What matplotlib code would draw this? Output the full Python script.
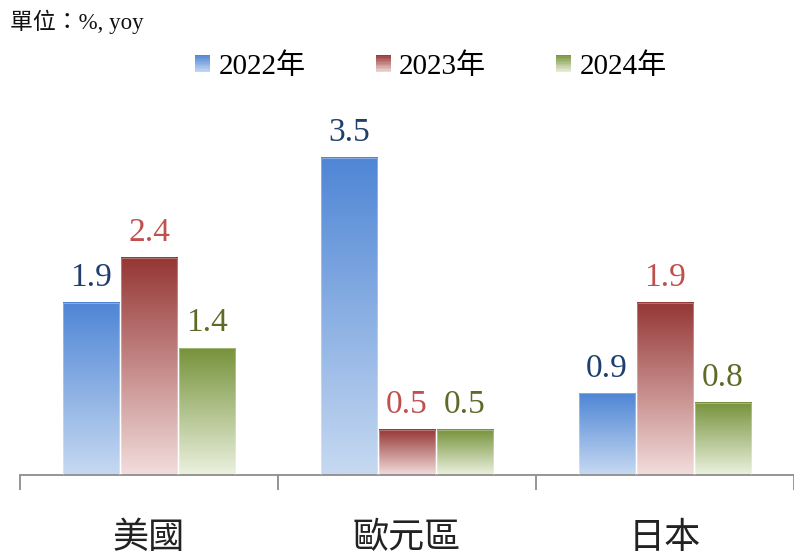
import matplotlib
matplotlib.use('Agg')
import matplotlib.pyplot as plt
import matplotlib.transforms as mtransforms
from matplotlib.patches import Rectangle
from matplotlib.legend_handler import HandlerBase
from matplotlib.colors import to_rgb
import numpy as np

# data
categories = ['美國', '歐元區', '日本']
series = ['2022年', '2023年', '2024年']
values_2022 = [1.9, 3.5, 0.9]
values_2023 = [2.4, 0.5, 1.9]
values_2024 = [1.4, 0.5, 0.8]
unit_label = '單位：%, yoy'

# gradient colours: (top, bottom) and label colour per series
grad_colors = [('#4F86D6', '#C6D9F1'), ('#953735', '#F2DCDB'), ('#77933C', '#EBF1DE')]
label_colors = ['#1F3E6E', '#C0504D', '#5E6B27']

plt.rcParams['font.family'] = ['Noto Sans CJK TC', 'DejaVu Sans']


def gradient(top, bottom, n=64):
    t = np.linspace(0, 1, n)[:, None]
    c0, c1 = np.array(to_rgb(top)), np.array(to_rgb(bottom))
    return (c0 * (1 - t) + c1 * t).reshape(n, 1, 3)


class GradientHandler(HandlerBase):
    def __init__(self, top, bottom):
        super().__init__()
        self.top, self.bottom = top, bottom

    def create_artists(self, legend, orig_handle, xdescent, ydescent, width, height, fontsize, trans):
        arts = []
        n = 12
        c0, c1 = np.array(to_rgb(self.top)), np.array(to_rgb(self.bottom))
        for i in range(n):
            t = (i + 0.5) / n
            col = c0 * (1 - t) + c1 * t
            y = -ydescent + height * (1 - (i + 1) / n)
            arts.append(Rectangle((-xdescent, y), width, height / n + 0.3,
                                  facecolor=col, edgecolor='none', transform=trans))
        return arts


fig = plt.figure(figsize=(7.94, 5.57), dpi=100)
ax = fig.add_axes([20 / 794, 82 / 557, 774 / 794, 362.4 / 557])

x = np.arange(len(categories))
width = 0.218
offsets = [-0.225, 0.0, 0.225]
all_values = [values_2022, values_2023, values_2024]
serif = ['Liberation Serif', 'DejaVu Serif']

handles = []
for k, vals in enumerate(all_values):
    top, bottom = grad_colors[k]
    img = gradient(top, bottom)
    for xi, v in zip(x, vals):
        x0 = xi + offsets[k] - width / 2
        ax.imshow(img, extent=[x0, x0 + width, 0, v], aspect='auto',
                  interpolation='bilinear', zorder=2)
        ax.add_patch(Rectangle((x0, 0), width, v, facecolor='none',
                               edgecolor='white', linewidth=0.8, alpha=0.3, zorder=3))
        ax.annotate(f'{v:.1f}', (xi + offsets[k], v), xytext=(0, 12),
                    textcoords='offset points', ha='center', va='baseline',
                    fontsize=24, color=label_colors[k], family=serif)
    handles.append(Rectangle((0, 0), 1, 1))

ax.set_xlim(-0.5, 2.5)
ax.set_ylim(0, 4)

for s in ['top', 'right', 'left']:
    ax.spines[s].set_visible(False)
ax.spines['bottom'].set_color('#8C8C8C')
ax.spines['bottom'].set_linewidth(1.3)
ax.set_yticks([])
ax.set_xticks([-0.5, 0.5, 1.5, 2.5])
ax.set_xticklabels([])
ax.tick_params(axis='x', direction='out', length=11, width=1.3, color='#8C8C8C')

trans = mtransforms.blended_transform_factory(ax.transData, fig.transFigure)
for xi, c in zip(x, categories):
    ax.text(xi, 1 - 538 / 557, c, transform=trans, ha='center', va='center',
            fontsize=26, color='#222222', fontweight='light')

fig.text(10 / 794, 1 - 22 / 557, unit_label, ha='left', va='center',
         fontsize=16.5, color='#111111', family=['Liberation Serif', 'Noto Sans CJK TC'])

handler_map = {h: GradientHandler(*grad_colors[i]) for i, h in enumerate(handles)}
leg = fig.legend(handles, series, handler_map=handler_map, ncol=3,
                 loc='center', bbox_to_anchor=(431 / 794, 1 - 67 / 557),
                 frameon=False, handlelength=0.52, handleheight=0.52,
                 handletextpad=0.28, columnspacing=2.4,
                 prop={'family': ['Liberation Serif', 'Noto Sans CJK TC'], 'size': 21})

fig.savefig('out.png', dpi=100)
